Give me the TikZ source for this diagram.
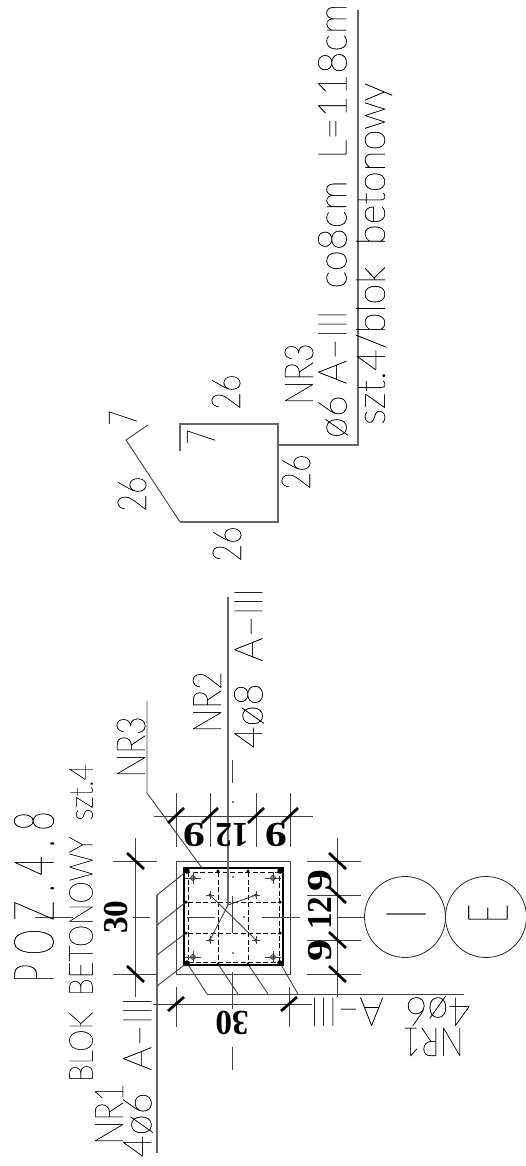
\documentclass[tikz,border=0pt]{standalone}
\usepackage{fontspec}
\newfontfamily\cadfont{Lato Thin}[FakeBold=0.35]
\newfontfamily\cadwide{Lato Thin}[FakeBold=0.35,LetterSpace=26]
\setmainfont{Liberation Serif}
\tikzset{
  cadtext/.style={inner sep=0pt,rotate=90,transform shape,text=black,font=\cadfont\fontsize{#1}{#1}\selectfont},
  dimtext/.style={inner sep=0pt,transform shape,font=\bfseries\fontsize{35}{35}\selectfont},
  thinline/.style={draw=black!75,line width=.7pt},
  barline/.style={draw=black!60,line width=1.3pt},
  tickline/.style={draw=black,line width=2.7pt},
  dashline/.style={draw=black,line width=1pt,dash pattern=on 5pt off 2.5pt},
  bardot/.style={circle,fill=black,inner sep=0pt,minimum size=#1}
}
\begin{document}
\begin{tikzpicture}[x=1pt,y=-1pt]
\useasboundingbox (0,0) rectangle (525,1166);

\coordinate (stA) at (180,451);
\coordinate (stB) at (180,424);
\coordinate (stC) at (278,424);
\coordinate (stD) at (278,522);
\coordinate (stE) at (180,522);
\coordinate (stF) at (126,440);
\coordinate (stG) at (148,425);
\coordinate (stL) at (278,445);
\coordinate (stK) at (358,445);
\coordinate (stT) at (358,10);
\draw[barline] (stA) -- (stB) -- (stC) -- (stD) -- (stE);
\draw[thinline,line width=.9pt] (stE) -- (stF) -- (stG);
\draw[barline] (stL) -- (stK) -- (stT);

\node (t1)[cadtext=40,xscale=.95] at (333,221) {ø6 A–III\ \ co8cm\ \ L=118cm};
\node (t2)[cadtext=40,xscale=.8] at (299,374) {NR3};
\node (t3)[cadtext=40,xscale=.95] at (374,254) {szt.4/blok\ \ betonowy};
\node (t4)[cadtext=40,xscale=.66] at (123,418) {7};
\node (t5)[cadtext=40,xscale=.66] at (201,437) {7};
\node (t6)[cadtext=40,xscale=.76] at (132,494) {26};
\node (t7)[cadtext=40,xscale=.76] at (227,544) {26};
\node (t8)[cadtext=40,xscale=.76] at (296,472) {26};
\node (t9)[cadtext=40,xscale=.76] at (226,392) {26};

\draw[thinline,line width=1pt] (176,861) rectangle (290,974);
\draw[draw=black,line width=1.4pt] (184,868) rectangle (283,965);
\draw[dashline] (188,872) rectangle (279,962);
\foreach \px in {218,248}
  \draw[dashline] (\px,872) -- (\px,962);
\foreach \py in {902,933}
  \draw[dashline] (188,\py) -- (279,\py);

\foreach \name/\px/\py in {c1/187/871,c2/280/871,c3/187/963,c4/280/963}
  \node (\name)[bardot=5.5pt] at (\px,\py) {};
\foreach \name/\px/\py in {e1/218/871,e2/248/871,e3/186/902,e4/280/902,e5/186/933,e6/280/933,e7/218/964,e8/248/964}
  \node (\name)[bardot=3.5pt] at (\px,\py) {};
\foreach \name/\px/\py in {m1/210/895,m2/256/895,m3/210/940,m4/256/940}{
  \node (\name)[bardot=3.5pt] at (\px,\py) {};
  \draw[thinline] (\px-4,\py) -- (\px+4,\py) (\px,\py-4) -- (\px,\py+4);
}
\foreach \px/\py in {193/878,273/878,193/957,273/957}{
  \draw[thinline,fill=black!40] (\px,\py) circle (2.5);
  \draw[thinline] (\px-8,\py) -- (\px+8,\py) (\px,\py-6) -- (\px,\py+6);
}

\coordinate (nr2a) at (228,597);
\coordinate (nr2b) at (228,905);
\coordinate (nr3a) at (147,701);
\coordinate (nr3b) at (147,793);
\coordinate (nr3c) at (202,868);
\draw[barline] (nr2a) -- (nr2b);
\draw[thinline,line width=.9pt] (nr2b) -- (m2);
\draw[thinline,line width=.9pt] (nr2b) -- (m3);
\draw[thinline,line width=.9pt] (m1) -- (m4);
\draw[thinline,line width=.9pt] (nr3a) -- (nr3b) -- (nr3c);

\coordinate (nr1a) at (157,895);
\coordinate (nr1z) at (157,1153);
\draw[barline] (nr1a) -- (nr1z);
\foreach \from/\to in {895/c1,925/e3,955/e5,986/c3}
  \draw[thinline,line width=.9pt] (157,\from) -- (\to);
\coordinate (nr1h) at (464,994);
\draw[thinline,line width=.9pt] (207,994) -- (nr1h);
\foreach \from/\to in {207/c3,238/e7,268/e8,298/c4}
  \draw[thinline,line width=.9pt] (\from,994) -- (\to);

\draw[thinline] (232,760) -- (232,783) (232,896) -- (232,933) (232,972) -- (232,1009) (232,1047) -- (232,1070);
\draw[thinline] (35,917) -- (73,917) (133,917) -- (150,917) (187,917) -- (215,917) (262,917) -- (300,917) (337,917) -- (365,917);
\foreach \px/\py in {233/802,233/877,233/953,244/917}
  \fill (\px,\py) circle (.8);

\draw[thinline] (135,838) -- (135,997);
\draw[thinline] (113,861) -- (157,861) (113,974) -- (157,974);
\draw[thinline] (337,838) -- (337,997);
\foreach \py in {861,895,940,974}
  \draw[thinline] (307,\py) -- (361,\py);
\draw[thinline] (154,816) -- (313,816);
\foreach \px in {176,210,256,290}
  \draw[thinline] (\px,793) -- (\px,847);
\draw[thinline] (153,1004) -- (312,1004);
\foreach \px in {176,289}
  \draw[thinline] (\px,987) -- (\px,1027);

\foreach \py in {861,974}
  \draw[tickline] (127,\py-8) -- (144,\py+8);
\foreach \py in {861,895,940,974}
  \draw[tickline] (329,\py-8) -- (346,\py+8);
\foreach \px in {176,210,256,290}
  \draw[tickline] (\px-8,823) -- (\px+8,808);
\foreach \px in {176,289}
  \draw[tickline] (\px-8,1011) -- (\px+8,997);

\node (d1)[dimtext,rotate=90,xscale=.95] at (116,917) {30};
\node (d2)[dimtext,rotate=180,xscale=.95] at (232,1023) {30};
\node (d3)[dimtext,rotate=180,xscale=1.25] at (194,835) {9};
\node (d4)[dimtext,rotate=180,xscale=.95] at (232,835) {12};
\node (d5)[dimtext,rotate=180,xscale=1.25] at (276,835) {9};
\node (d6)[dimtext,rotate=90,xscale=1.25] at (320,881) {9};
\node (d7)[dimtext,rotate=90,xscale=.95] at (320,913) {12};
\node (d8)[dimtext,rotate=90,xscale=1.25] at (320,951) {9};

\node (c5)[circle,draw=black!85,line width=.8pt,minimum size=81pt,inner sep=0pt] at (405,917) {};
\node (c6)[circle,draw=black!85,line width=.8pt,minimum size=81pt,inner sep=0pt] at (486,917) {};
\node (s1)[cadtext=56] at (406,914) {I};
\node (s2)[cadtext=56,xscale=.6] at (488,913.5) {E};

\node (t10)[cadtext=56,xscale=.6,font=\cadwide\fontsize{56}{56}\selectfont] at (34,897) {POZ.4.8};
\node (t11)[cadtext=33,xscale=.86] at (81,923) {BLOK\ \ BETONOWY\ \ szt.4};
\node (t12)[cadtext=40,xscale=.8] at (131,747) {NR3};
\node (t13)[cadtext=40,xscale=.8] at (207,702) {NR2};
\node (t14)[cadtext=40,xscale=.95] at (249,668) {4ø8\ \ A–III};
\node (t15)[cadtext=40,xscale=.8] at (109,1114) {NR1};
\node (t16)[cadtext=40,xscale=.95] at (138,1077) {4ø6\ \ A–III};
\node (t17)[cadtext=40,rotate=90,xscale=.95] at (390,1011) {4ø6\ \ A–III};
\node (t18)[cadtext=40,rotate=90,xscale=.8] at (433,1042) {NR1};
\end{tikzpicture}
\end{document}
